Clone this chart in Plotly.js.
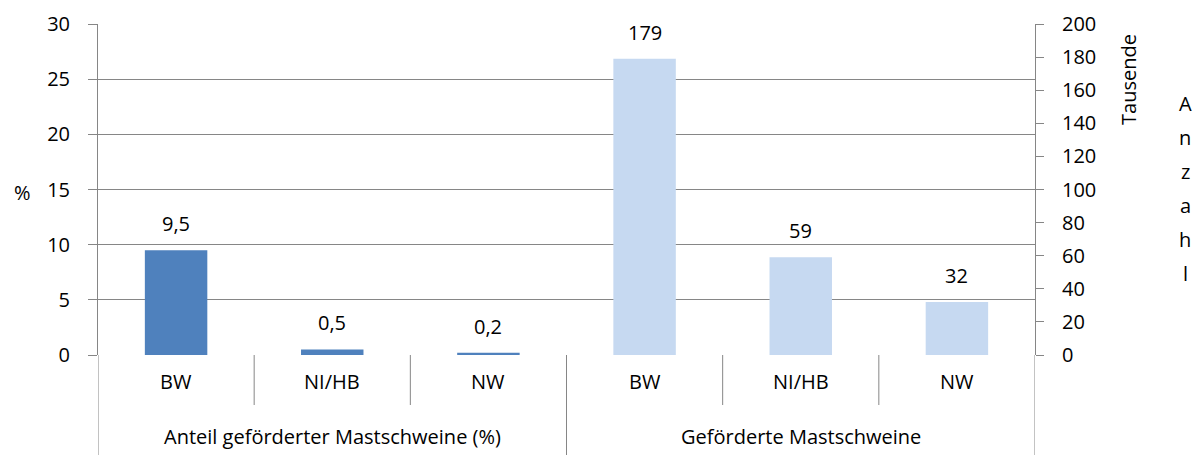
<!DOCTYPE html>
<html><head><meta charset="utf-8">
<script src="https://cdn.plot.ly/plotly-3.0.1.min.js"></script>
<style>body{margin:0;background:#fff}#c{width:1200px;height:455px}</style>
</head><body><div id="c"></div>
<script>
var groups = ["Anteil geförderter Mastschweine (%)", "Geförderte Mastschweine"];
var regions = ["BW", "NI/HB", "NW"];
var shareValues = [9.5, 0.5, 0.2];      // %
var countValues = [179, 59, 32];        // Tausende
var leftTitle = "%";
var rightTitle = "Tausende";
var rightOuterTitle = "Anzahl";

var FONT = "'Open Sans', sans-serif";
var FS = 20;
var darkBlue = "#4F81BD", lightBlue = "#C6D9F1", gridC = "#868686";

var xa = [0,1,2], xb = [3,4,5];
var traces = [
  {type:"bar", x: xa, y: shareValues, marker:{color:darkBlue}, yaxis:"y", hoverinfo:"none"},
  {type:"bar", x: xb, y: countValues, marker:{color:lightBlue}, yaxis:"y2", hoverinfo:"none"}
];

var plotH = 455 - 24 - 100;
var ann = [], shapes = [];
var f = {size:FS,color:"#000",family:FONT};
function fmt(v){ return String(v).replace(".", ","); }
shareValues.forEach(function(v,i){
  ann.push({x:xa[i], y:v, xref:"x", yref:"y", text:fmt(v), showarrow:false, yanchor:"bottom", yshift:11, font:f});
});
countValues.forEach(function(v,i){
  ann.push({x:xb[i], y:v, xref:"x", yref:"y2", text:fmt(v), showarrow:false, yanchor:"bottom", yshift:11, font:f});
});
groups.forEach(function(g,gi){
  regions.forEach(function(r,ri){
    var xi = gi*regions.length + ri;
    ann.push({x:xi, y:-26/plotH, xref:"x", yref:"paper", text:r, showarrow:false, xanchor:"center", yanchor:"middle", font:f});
    if (ri > 0) shapes.push({type:"line", xref:"x", yref:"paper", x0:xi-0.5, x1:xi-0.5, y0:0, y1:-50/plotH, line:{color:gridC,width:1}});
  });
  var mid = gi*regions.length + (regions.length-1)/2;
  ann.push({x:mid, y:-81/plotH, xref:"x", yref:"paper", text:g, showarrow:false, xanchor:"center", yanchor:"middle", font:f});
  var left = gi*regions.length - 0.5;
  shapes.push({type:"line", xref:"x", yref:"paper", x0:left, x1:left, y0:0, y1:-100/plotH, line:{color:gridC,width:1}});
});
var lastX = groups.length*regions.length-0.5;
shapes.push({type:"line", xref:"x", yref:"paper", x0:lastX, x1:lastX, y0:0, y1:-100/plotH, line:{color:gridC,width:1}});

ann.push({x:0, xshift:-76, y:(355-192)/plotH, xref:"paper", yref:"paper", xanchor:"center", yanchor:"middle", text:leftTitle, showarrow:false, font:f});
ann.push({x:1, xshift:93, y:(355-80)/plotH, xref:"paper", yref:"paper", xanchor:"center", yanchor:"middle", text:rightTitle, textangle:-90, showarrow:false, font:f});
rightOuterTitle.split("").forEach(function(ch,i){
  ann.push({x:1, xshift:150, y:(355-103)/plotH, yshift:-34*i, xref:"paper", yref:"paper", xanchor:"center", yanchor:"middle", text:ch, showarrow:false, font:f});
});

var layout = {
  width:1200, height:455, margin:{l:98, r:165, t:24, b:100},
  paper_bgcolor:"#fff", plot_bgcolor:"#fff", showlegend:false, bargap:0.6,
  separators:",.",
  font:{family:FONT, size:FS, color:"#000"},
  xaxis:{range:[-0.5,5.5], showticklabels:false, showgrid:false, zeroline:false, showline:false, ticks:"", fixedrange:true},
  yaxis:{range:[0,30], dtick:5, tick0:0, ticks:"outside", ticklen:9, tickcolor:gridC, showline:true, linecolor:gridC, linewidth:1,
         showgrid:true, gridcolor:gridC, gridwidth:1, zeroline:false, ticklabelstandoff:14, tickfont:f},
  yaxis2:{range:[0,200], dtick:20, tick0:0, overlaying:"y", side:"right", ticks:"outside", ticklen:8, tickcolor:gridC,
          showline:true, linecolor:gridC, linewidth:1, showgrid:false, zeroline:false, ticklabelstandoff:14, tickfont:f},
  annotations:ann, shapes:shapes
};
Plotly.newPlot("c", traces, layout, {staticPlot:true, displayModeBar:false});
</script></body></html>
